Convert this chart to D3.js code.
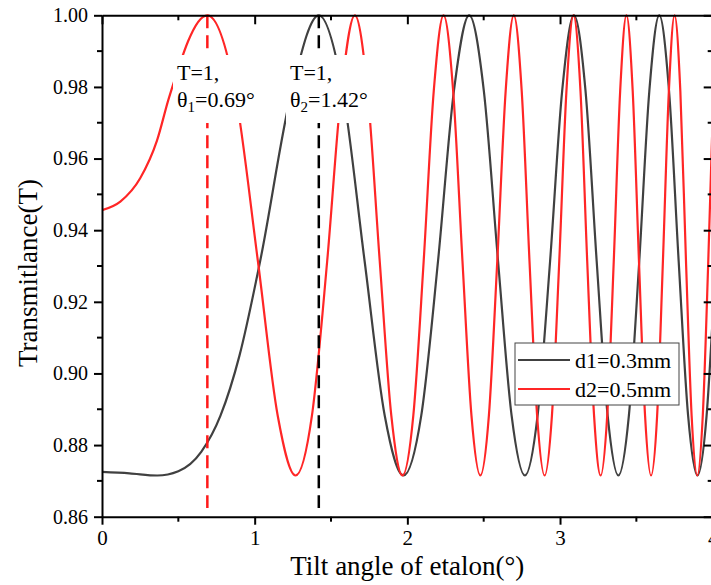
<!DOCTYPE html>
<html>
<head>
<meta charset="utf-8">
<script src="https://cdn.jsdelivr.net/npm/d3@7"></script>
<style>
  html, body { margin: 0; padding: 0; background: #fff; overflow: hidden; }
  svg { display: block; }
  svg text { font-family: "Liberation Serif", "Tinos", "Times New Roman", "DejaVu Serif", serif !important; fill: #000; }
</style>
</head>
<body>
<svg id="chart" width="711" height="585"></svg>
<script>
// Tilt angle (degrees) and transmittance for the 0.3 mm etalon
const thetaD1 = [0, 0.18, 0.362, 0.5, 0.65, 0.776, 0.9, 1.036, 1.243, 1.42, 1.577, 1.72, 1.852,
  1.975, 2.091, 2.201, 2.305, 2.405, 2.501, 2.594, 2.683, 2.77, 2.853, 2.935, 3.014, 3.091,
  3.167, 3.24, 3.312, 3.382, 3.451, 3.519, 3.585, 3.65, 3.714, 3.777, 3.839, 3.9, 3.96, 4.0];
const transD1 = [0.8725, 0.8721, 0.8715, 0.8727, 0.8781, 0.8882, 0.9049, 0.9314, 0.9789, 1.0, 0.9789, 0.9314, 0.8882,
  0.8715, 0.8882, 0.9314, 0.9789, 1.0, 0.9789, 0.9314, 0.8882, 0.8715, 0.8882, 0.9314, 0.9789, 1.0,
  0.9789, 0.9314, 0.8882, 0.8715, 0.8882, 0.9314, 0.9789, 1.0, 0.9789, 0.9314, 0.8882, 0.8715, 0.8882, 0.9155];

// Tilt angle (degrees) and transmittance for the 0.5 mm etalon
const thetaD2 = [0, 0.12, 0.25, 0.36, 0.439, 0.69, 0.871, 1.021, 1.151, 1.268, 1.375, 1.475, 1.568,
  1.656, 1.739, 1.819, 1.895, 1.968, 2.039, 2.107, 2.173, 2.237, 2.3, 2.361, 2.42, 2.478,
  2.534, 2.589, 2.644, 2.697, 2.749, 2.8, 2.85, 2.899, 2.947, 2.995, 3.042, 3.088, 3.134,
  3.178, 3.223, 3.266, 3.309, 3.352, 3.394, 3.435, 3.476, 3.517, 3.557, 3.596, 3.636, 3.674,
  3.713, 3.75, 3.788, 3.825, 3.862, 3.899, 3.935, 3.971, 4.0];
const transD2 = [0.9456, 0.948, 0.9545, 0.965, 0.977, 1.0, 0.9789, 0.9314, 0.8882, 0.8715, 0.8882, 0.9314, 0.9789,
  1.0, 0.9789, 0.9314, 0.8882, 0.8715, 0.8882, 0.9314, 0.9789, 1.0, 0.9789, 0.9314, 0.8882, 0.8715,
  0.8882, 0.9314, 0.9789, 1.0, 0.9789, 0.9314, 0.8882, 0.8715, 0.8882, 0.9314, 0.9789, 1.0, 0.9789,
  0.9314, 0.8882, 0.8715, 0.8882, 0.9314, 0.9789, 1.0, 0.9789, 0.9314, 0.8882, 0.8715, 0.8882, 0.9314,
  0.9789, 1.0, 0.9789, 0.9314, 0.8882, 0.8715, 0.8882, 0.9314, 0.9719];

const seriesNames = ["d1=0.3mm", "d2=0.5mm"];
const seriesColors = ["#404040", "#ff2626"];

// Resonance markers: angle where T = 1 for each thickness
const markerAngles = [0.69, 1.42];
const markerLabels = ["0.69°", "1.42°"];
const markerSubs = ["1", "2"];

const xTicks = [0, 1, 2, 3, 4];
const yTicks = [0.86, 0.88, 0.90, 0.92, 0.94, 0.96, 0.98, 1.00];

const FONT = "'Liberation Serif', 'Tinos', 'Times New Roman', 'DejaVu Serif', serif";

const svg = d3.select("#chart");
const plotLeft = 102, plotRight = 712.7, plotTop = 15.3, plotBottom = 516.7;

const x = d3.scaleLinear().domain([0, 4]).range([plotLeft, plotRight]);
const y = d3.scaleLinear().domain([0.86, 1.00]).range([plotBottom, plotTop]);

svg.append("defs").append("clipPath").attr("id", "plotClip")
  .append("rect").attr("x", plotLeft).attr("y", plotTop - 2)
  .attr("width", plotRight - plotLeft).attr("height", plotBottom - plotTop + 2);

const plot = svg.append("g").attr("clip-path", "url(#plotClip)");

const line = d3.line()
  .x(d => x(d[0]))
  .y(d => y(d[1]))
  .curve(d3.curveMonotoneX);

const series = [
  d3.zip(thetaD1, transD1),
  d3.zip(thetaD2, transD2)
];

series.forEach((pts, i) => {
  plot.append("path")
    .datum(pts)
    .attr("fill", "none")
    .attr("stroke", seriesColors[i])
    .attr("stroke-width", 2.2)
    .attr("d", line);
});

// Dashed vertical lines at the resonance angles
const markerColors = ["#ff1a1a", "#000000"];
markerAngles.forEach((a, i) => {
  plot.append("line")
    .attr("x1", x(a)).attr("x2", x(a))
    .attr("y1", y(1.0)).attr("y2", y(0.8624))
    .attr("stroke", markerColors[i])
    .attr("stroke-width", 2.5)
    .attr("stroke-dasharray", "13,7");
});

// Annotation boxes with white background
const boxes = [
  { x0: 173, x1: 263 },
  { x0: 286, x1: 374 }
];
markerAngles.forEach((a, i) => {
  svg.append("rect")
    .attr("x", boxes[i].x0).attr("y", 55)
    .attr("width", boxes[i].x1 - boxes[i].x0).attr("height", 68)
    .attr("fill", "#fff");
  const tx = boxes[i].x0 + 4;
  svg.append("text").attr("x", tx).attr("y", 80)
    .attr("font-family", FONT).attr("font-size", 22).text("T=1,");
  const t2 = svg.append("text").attr("x", tx).attr("y", 107)
    .attr("font-family", FONT).attr("font-size", 22);
  t2.append("tspan").text("θ");
  t2.append("tspan").attr("dy", 5).attr("font-size", 15).text(markerSubs[i]);
  t2.append("tspan").attr("dy", -5).text("=" + markerLabels[i]);
});

// Axes
const tickStroke = 2;
function styleAxis(g) {
  g.attr("font-family", FONT);
  g.selectAll("path").attr("stroke", "#000").attr("stroke-width", 2);
  g.selectAll("line").attr("stroke", "#000").attr("stroke-width", tickStroke);
}

const xMinor = d3.range(0.5, 4, 1);
const yMinor = d3.range(0.87, 1.0, 0.02);

// bottom
const gB = svg.append("g").attr("transform", `translate(0,${plotBottom})`)
  .call(d3.axisBottom(x).tickValues(xTicks).tickFormat(d3.format("d")).tickSize(8).tickSizeOuter(0).tickPadding(5));
styleAxis(gB);
gB.attr("font-size", 21);
gB.append("g").selectAll("line").data(xMinor).join("line")
  .attr("x1", d => x(d)).attr("x2", d => x(d)).attr("y1", 0).attr("y2", 5)
  .attr("stroke", "#000").attr("stroke-width", tickStroke);

// top (ticks point inward)
const gT = svg.append("g").attr("transform", `translate(0,${plotTop})`)
  .call(d3.axisTop(x).tickValues(xTicks).tickFormat("").tickSize(-9).tickSizeOuter(0));
styleAxis(gT);
gT.append("g").selectAll("line").data(xMinor).join("line")
  .attr("x1", d => x(d)).attr("x2", d => x(d)).attr("y1", 0).attr("y2", 5)
  .attr("stroke", "#000").attr("stroke-width", tickStroke);

// left
const gL = svg.append("g").attr("transform", `translate(${plotLeft},0)`)
  .call(d3.axisLeft(y).tickValues(yTicks).tickFormat(d3.format(".2f")).tickSize(8).tickSizeOuter(0).tickPadding(6));
styleAxis(gL);
gL.attr("font-size", 20);
gL.append("g").selectAll("line").data(yMinor).join("line")
  .attr("x1", 0).attr("x2", -5).attr("y1", d => y(d)).attr("y2", d => y(d))
  .attr("stroke", "#000").attr("stroke-width", tickStroke);

// right (ticks point inward)
const gR = svg.append("g").attr("transform", `translate(${plotRight},0)`)
  .call(d3.axisRight(y).tickValues(yTicks).tickFormat("").tickSize(-9).tickSizeOuter(0));
styleAxis(gR);
gR.append("g").selectAll("line").data(yMinor).join("line")
  .attr("x1", 0).attr("x2", -5).attr("y1", d => y(d)).attr("y2", d => y(d))
  .attr("stroke", "#000").attr("stroke-width", tickStroke);

// Axis titles
svg.append("text")
  .attr("x", (plotLeft + plotRight) / 2).attr("y", 575)
  .attr("text-anchor", "middle").attr("font-family", FONT).attr("font-size", 27)
  .text("Tilt angle of etalon(°)");

svg.append("text")
  .attr("transform", `translate(37,${(plotTop + plotBottom) / 2 + 7}) rotate(-90)`)
  .attr("text-anchor", "middle").attr("font-family", FONT).attr("font-size", 27)
  .text("Transmitlance(T)");

// Legend
const lg = svg.append("g");
lg.append("rect").attr("x", 515).attr("y", 343).attr("width", 164).attr("height", 62)
  .attr("fill", "#fff").attr("stroke", "#444").attr("stroke-width", 1);
seriesNames.forEach((name, i) => {
  const cy = 360 + i * 29;
  lg.append("line").attr("x1", 518).attr("x2", 570).attr("y1", cy).attr("y2", cy)
    .attr("stroke", seriesColors[i]).attr("stroke-width", 2);
  lg.append("text").attr("x", 575).attr("y", cy + 8)
    .attr("font-family", FONT).attr("font-size", 22).text(name);
});
</script>
</body>
</html>
